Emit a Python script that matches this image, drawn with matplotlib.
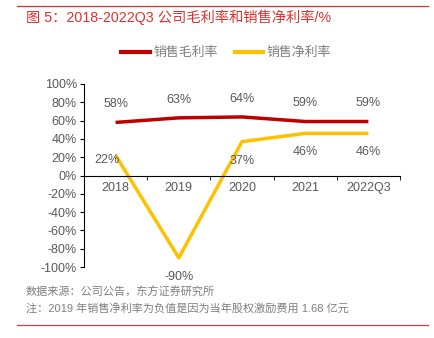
import matplotlib
matplotlib.use("Agg")
import matplotlib.pyplot as plt
from matplotlib.lines import Line2D

plt.rcParams['font.family'] = ['Liberation Sans', 'Noto Sans CJK SC', 'DejaVu Sans']

categories = ['2018', '2019', '2020', '2021', '2022Q3']
gross_margin = [58, 63, 64, 59, 59]
net_margin = [22, -90, 37, 46, 46]
gross_labels = ['58%', '63%', '64%', '59%', '59%']
net_labels = ['22%', '-90%', '37%', '46%', '46%']
yticks = [100, 80, 60, 40, 20, 0, -20, -40, -60, -80, -100]

RED = '#C00000'
YEL = '#FFC000'
GRAY = '#595959'

fig = plt.figure(figsize=(4.35, 3.38), dpi=100)
ax = fig.add_axes([84/435, 1-267/338, 316/435, 183/338])

x = list(range(len(categories)))
ax.plot(x, gross_margin, color=RED, lw=2.5, solid_capstyle='butt')
ax.plot(x, net_margin, color=YEL, lw=2.5, solid_capstyle='butt')

ax.set_xlim(-0.5, len(categories) - 0.5)
ax.set_ylim(-100, 100)
ax.set_yticks(yticks)
ax.set_yticklabels([f'{v}%' for v in yticks])
ax.set_xticks(x)
ax.set_xticklabels(categories)
ax.set_xticks([i - 0.5 for i in range(len(categories) + 1)], minor=True)
ax.tick_params(axis='x', which='major', length=0, pad=5, labelsize=9, labelcolor=GRAY)
ax.tick_params(axis='x', which='minor', length=3, direction='out', color='black')
ax.tick_params(axis='y', length=3, direction='out', pad=2, labelsize=9, labelcolor=GRAY)

for s in ['top', 'right']:
    ax.spines[s].set_visible(False)
ax.spines['bottom'].set_position(('data', 0))
ax.spines['left'].set_color('black')
ax.spines['bottom'].set_color('black')

for i, (v, t) in enumerate(zip(gross_margin, gross_labels)):
    ax.annotate(t, (i, v), xytext=(0, 13), textcoords='offset points',
                ha='center', va='center', fontsize=9, color=GRAY)
for i, (v, t) in enumerate(zip(net_margin, net_labels)):
    dx = -6.5 if i == 0 else 0
    dy = -3.6 if i == 0 else -13.7
    ax.annotate(t, (i, v), xytext=(dx, dy), textcoords='offset points',
                ha='center', va='center', fontsize=9, color=GRAY)

handles = [Line2D([], [], color=RED, lw=3), Line2D([], [], color=YEL, lw=3)]
fig.legend(handles, ['销售毛利率', '销售净利率'], loc='center', bbox_to_anchor=(0.52, 1-53/338),
           ncol=2, frameon=False, fontsize=9.3, handlelength=2.2, handletextpad=0.3,
           columnspacing=1.3, labelcolor='#7F7F7F')

fig.add_artist(Line2D([17/435, 428/435], [1-6/338, 1-6/338], color='#E03030', lw=0.9))
fig.add_artist(Line2D([17/435, 428/435], [1-325/338, 1-325/338], color='#D04040', lw=0.9))
fig.text(26/435, 1-17/338, '图 5：2018-2022Q3 公司毛利率和销售净利率/%', color='#E03030',
         fontsize=10.3, va='center', ha='left')
fig.text(26/435, 1-292/338, '数据来源：公司公告，东方证券研究所', color='#7F7F7F',
         fontsize=8, va='center', ha='left')
fig.text(26/435, 1-308/338, '注：2019 年销售净利率为负值是因为当年股权激励费用 1.68 亿元', color='#7F7F7F',
         fontsize=8, va='center', ha='left')

fig.savefig('out.png', dpi=100)
